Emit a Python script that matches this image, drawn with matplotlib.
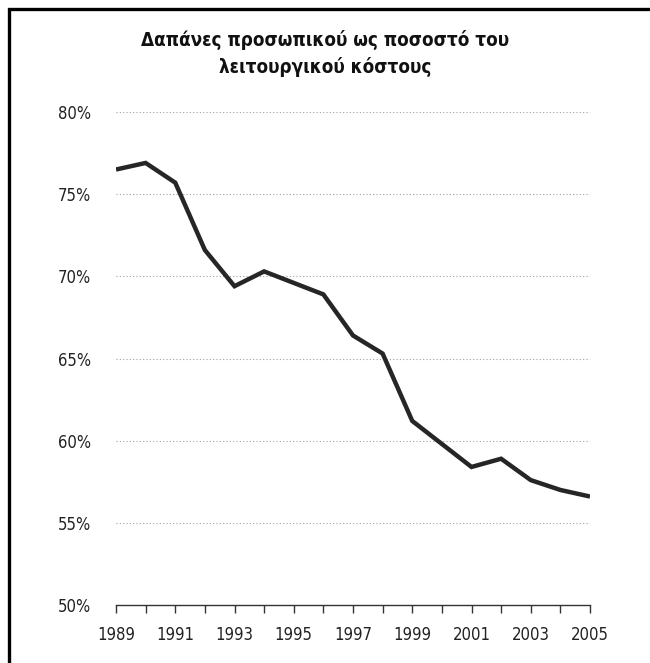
import matplotlib
matplotlib.use("Agg")
import matplotlib.pyplot as plt
from matplotlib.patches import Rectangle
from matplotlib.ticker import FuncFormatter

# data
years = list(range(1989, 2006))
share_pct = [76.5, 76.9, 75.7, 71.6, 69.4, 70.3, 69.6, 68.9, 66.4, 65.3,
             61.2, 59.8, 58.4, 58.9, 57.6, 57.0, 56.6]
y_ticks = [50, 55, 60, 65, 70, 75, 80]
x_labels = [1989, 1991, 1993, 1995, 1997, 1999, 2001, 2003, 2005]
title = "Δαπάνες προσωπικού ως ποσοστό του\nλειτουργικού κόστους"

# DejaVu Sans Condensed is the closest narrow face with Greek glyphs
plt.rcParams["font.family"] = ["DejaVu Sans"]
plt.rcParams["font.stretch"] = "condensed"

fig = plt.figure(figsize=(6.5, 6.63), dpi=100)
ax = fig.add_axes([116 / 650, 1 - 605 / 663, 474 / 650, 493 / 663])

ax.plot(years, share_pct, color="#262626", lw=3.2, solid_joinstyle="miter",
        solid_capstyle="butt", zorder=3)

ax.set_xlim(1989, 2005)
ax.set_ylim(50, 80)
ax.set_yticks(y_ticks)
ax.yaxis.set_major_formatter(FuncFormatter(lambda v, _: f"{v:.0f}%"))
ax.set_xticks(years)
ax.set_xticklabels([str(y) if y in x_labels else "" for y in years])

for v in y_ticks[1:]:
    ax.axhline(v, color="#a0a0a0", lw=0.8, ls=(0, (1, 2)), zorder=1)

for s in ["top", "right", "left"]:
    ax.spines[s].set_visible(False)
ax.spines["bottom"].set_color("#333333")
ax.spines["bottom"].set_linewidth(1.0)
ax.tick_params(axis="y", length=0, pad=18, labelsize=12, labelcolor="#222222")
ax.tick_params(axis="x", length=6, width=1.0, color="#333333", pad=9,
               labelsize=12, labelcolor="#222222")

fig.text(0.5, 0.919, title, ha="center", va="center", fontsize=13.5,
         fontweight="bold", linespacing=1.45, color="#111111")

# frame around the whole picture (runs off the right and bottom edges)
fig.patches.append(Rectangle((9 / 650, -0.05), 1.0, 1 - 9 / 663 + 0.05,
                             transform=fig.transFigure, fill=False,
                             edgecolor="black", lw=2.4))

fig.savefig("out.png", dpi=100)
